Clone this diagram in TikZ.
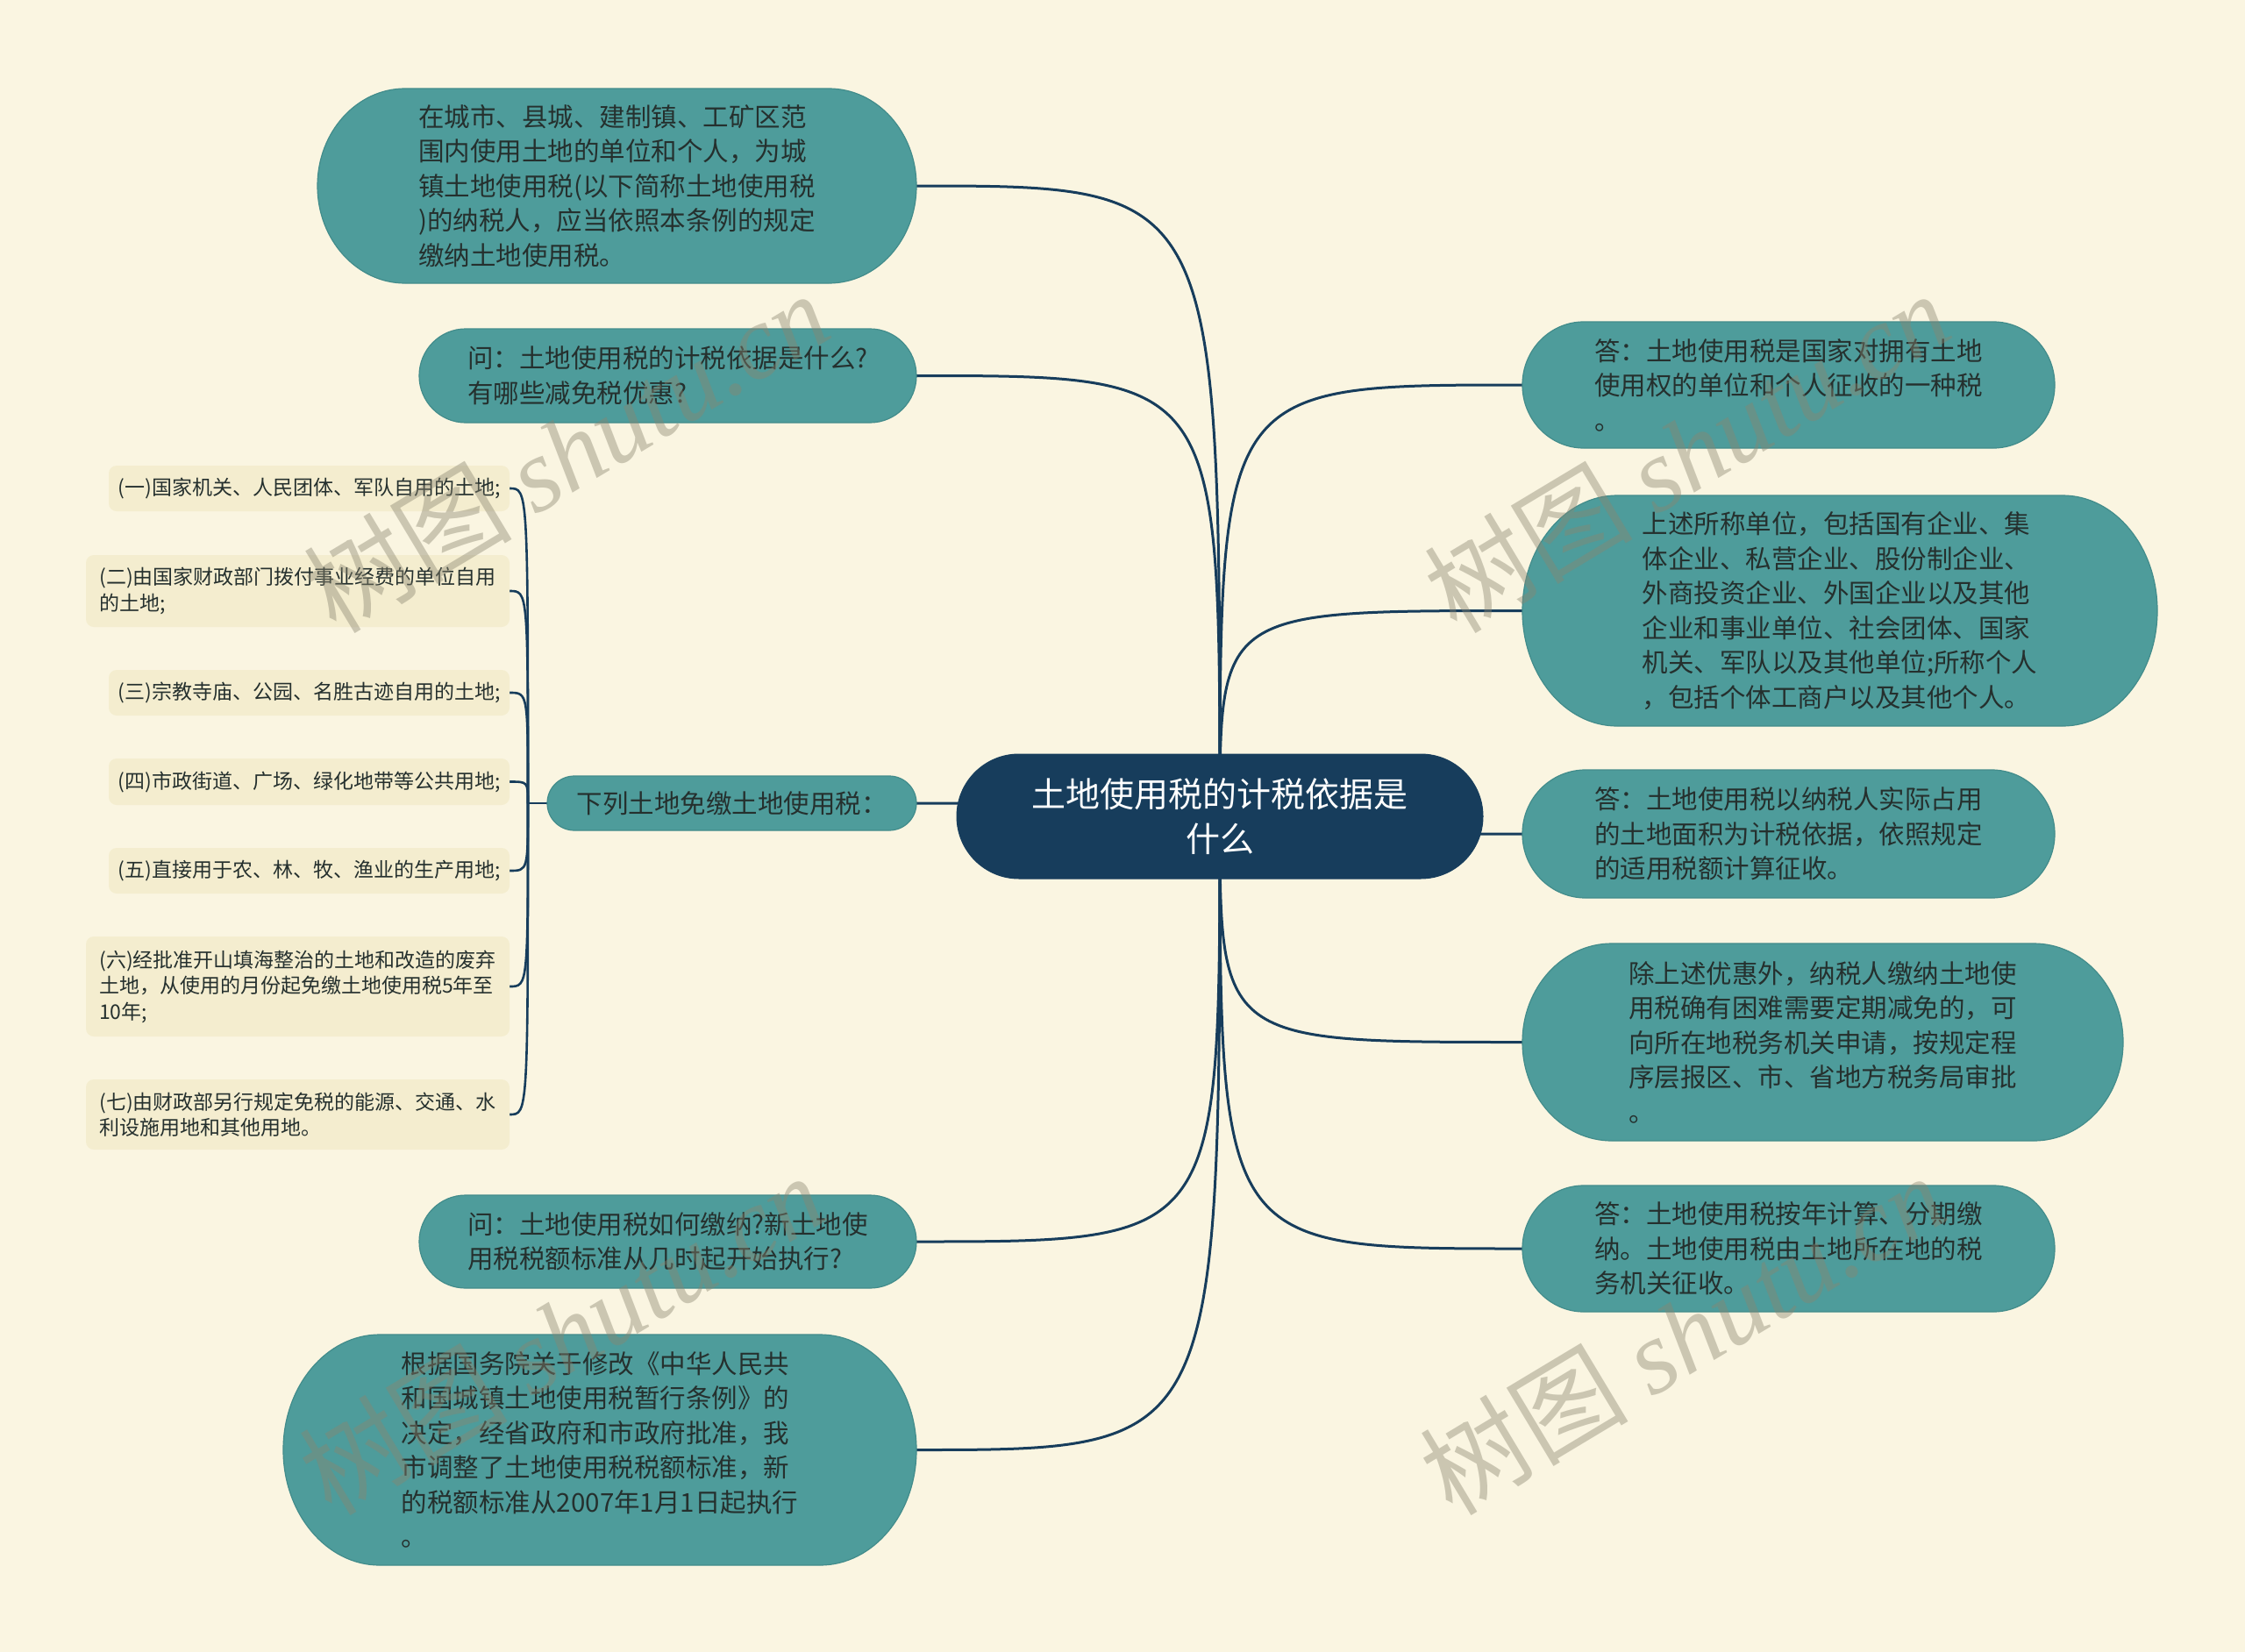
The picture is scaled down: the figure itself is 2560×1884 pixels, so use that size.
\documentclass[tikz,border=0pt]{standalone}
\usepackage{fontspec}
\setmainfont{Noto Sans CJK SC}
\newfontfamily\wmserif{Liberation Serif}
\pgfdeclarelayer{bg}
\pgfsetlayers{bg,main}
\definecolor{bgc}{HTML}{FAF5E1}
\definecolor{tealc}{HTML}{4E9C9B}
\definecolor{tealedge}{HTML}{428C8B}
\definecolor{navy}{HTML}{173D5C}
\definecolor{txt}{HTML}{25302E}
\definecolor{leafc}{HTML}{F4EDCF}
\definecolor{wmc}{HTML}{8A8570}
\tikzset{
  tealpill/.style={fill=tealc,draw=tealedge,line width=1.2pt},
  tealtext/.style={text=txt,font=\fontsize{29.5}{39.5}\selectfont},
  rootpill/.style={fill=navy,draw=navy,line width=1pt},
  roottext/.style={text=white,font=\fontsize{39}{51}\selectfont,align=center},
  conn/.style={draw=navy,line width=3pt},
  leafconn/.style={draw=navy,line width=2.6pt},
  leafbox/.style={fill=leafc,rounded corners=9pt,inner sep=0pt,align=left,text=txt,font=\fontsize{23}{29.5}\selectfont},
  wm/.style={text=wmc,text opacity=0.42,rotate=31,font=\fontsize{119}{119}\selectfont,inner sep=0pt}
}
% name, x1, y1, x2, y2, rx, kind, text
\newcommand\mmnode[8]{%
  \path[#7pill] (#2+#6,#3) -- (#4-#6,#3)
     arc[start angle=-90,end angle=90,x radius=#6,y radius={(#5-#3)/2}]
     -- (#2+#6,#5)
     arc[start angle=90,end angle=270,x radius=#6,y radius={(#5-#3)/2}] -- cycle;
  \node[inner sep=0pt,align=left,#7text,minimum width={(#4-#2)*1pt},minimum height={(#5-#3)*1pt}]
     (#1) at ({(#2+#4)/2},{(#3+#5)/2}) {#8};
}
% name, x1, y1, x2, y2, text
\newcommand\mmleaf[6]{%
  \node[leafbox,minimum width={(#4-#2)*1pt},minimum height={(#5-#3)*1pt}]
     (#1) at ({(#2+#4)/2},{(#3+#5)/2}) {#6};
}
\begin{document}
\begin{tikzpicture}[x=1pt,y=-1pt]
\useasboundingbox (0,0) rectangle (2560,1884);
\begin{pgfonlayer}{bg}
\fill[bgc] (0,0) rectangle (2560,1884);
\end{pgfonlayer}

% root
\mmnode{root}{1091}{860}{1691}{1002}{71}{root}{土地使用税的计税依据是\\什么}

% left side
\mmnode{L1}{362}{101}{1045}{323}{100}{teal}{在城市、县城、建制镇、工矿区范\\围内使用土地的单位和个人，为城\\镇土地使用税(以下简称土地使用税\\)的纳税人，应当依照本条例的规定\\缴纳土地使用税。}
\mmnode{L2}{478}{375}{1045}{482}{53}{teal}{问：土地使用税的计税依据是什么?\\有哪些减免税优惠?}
\mmnode{L3}{624}{885}{1045}{947}{31}{teal}{下列土地免缴土地使用税：}
\mmnode{L4}{478}{1363}{1045}{1469}{53}{teal}{问：土地使用税如何缴纳?新土地使\\用税税额标准从几时起开始执行?}
\mmnode{L5}{323}{1522}{1045}{1785}{110}{teal}{根据国务院关于修改《中华人民共\\和国城镇土地使用税暂行条例》的\\决定，经省政府和市政府批准，我\\市调整了土地使用税税额标准，新\\的税额标准从2007年1月1日起执行\\。}

% right side
\mmnode{R1}{1736}{367}{2343}{511}{70}{teal}{答：土地使用税是国家对拥有土地\\使用权的单位和个人征收的一种税\\。}
\mmnode{R2}{1736}{565}{2460}{828}{108}{teal}{上述所称单位，包括国有企业、集\\体企业、私营企业、股份制企业、\\外商投资企业、外国企业以及其他\\企业和事业单位、社会团体、国家\\机关、军队以及其他单位;所称个人\\，包括个体工商户以及其他个人。}
\mmnode{R3}{1736}{878}{2343}{1024}{72}{teal}{答：土地使用税以纳税人实际占用\\的土地面积为计税依据，依照规定\\的适用税额计算征收。}
\mmnode{R4}{1736}{1076}{2421}{1301}{102}{teal}{除上述优惠外，纳税人缴纳土地使\\用税确有困难需要定期减免的，可\\向所在地税务机关申请，按规定程\\序层报区、市、省地方税务局审批\\。}
\mmnode{R5}{1736}{1352}{2343}{1496}{70}{teal}{答：土地使用税按年计算、分期缴\\纳。土地使用税由土地所在地的税\\务机关征收。}

% leaves
\mmleaf{La}{124}{531}{581}{583}{(一)国家机关、人民团体、军队自用的土地;}
\mmleaf{Lb}{98}{633}{581}{715}{(二)由国家财政部门拨付事业经费的单位自用\\的土地;}
\mmleaf{Lc}{124}{764}{581}{816}{(三)宗教寺庙、公园、名胜古迹自用的土地;}
\mmleaf{Ld}{124}{865}{581}{918}{(四)市政街道、广场、绿化地带等公共用地;}
\mmleaf{Le}{124}{967}{581}{1019}{(五)直接用于农、林、牧、渔业的生产用地;}
\mmleaf{Lf}{98}{1068}{581}{1182}{(六)经批准开山填海整治的土地和改造的废弃\\土地，从使用的月份起免缴土地使用税5年至\\10年;}
\mmleaf{Lg}{98}{1231}{581}{1311}{(七)由财政部另行规定免税的能源、交通、水\\利设施用地和其他用地。}

% connectors
\begin{pgfonlayer}{bg}
\foreach \t in {L1,L2,L3,L4,L5}{
  \draw[conn] (root.center) .. controls (root.center |- \t.east) .. (\t.east);
}
\foreach \t in {R1,R2,R3,R4,R5}{
  \draw[conn] (root.center) .. controls (root.center |- \t.west) .. (\t.west);
}
\coordinate (j) at (602,916);
\draw[leafconn] (L3.west) -- (j);
\foreach \t in {La,Lb,Lc,Ld,Le,Lf,Lg}{
  \draw[leafconn] (j) .. controls (j |- \t.east) .. (\t.east);
}
\end{pgfonlayer}

% watermarks
\node[wm] (wm1) at (645,515) {树图 {\wmserif\itshape shutu.cn}};
\node[wm] (wm2) at (1923,515) {树图 {\wmserif\itshape shutu.cn}};
\node[wm] (wm3) at (640,1521) {树图 {\wmserif\itshape shutu.cn}};
\node[wm] (wm4) at (1918,1521) {树图 {\wmserif\itshape shutu.cn}};
\end{tikzpicture}
\end{document}
